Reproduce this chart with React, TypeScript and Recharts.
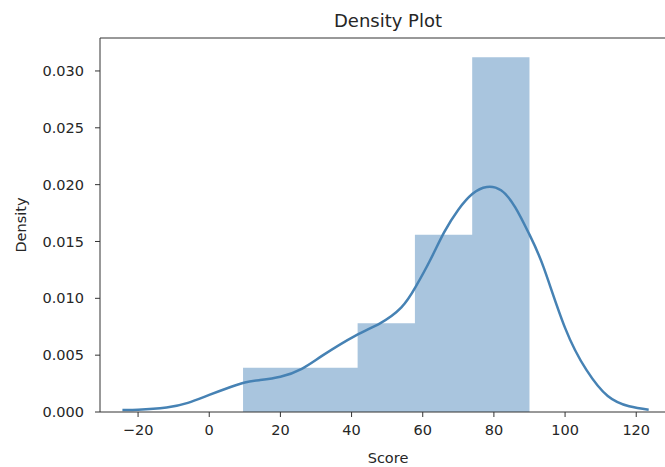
import React from 'react';
import { ComposedChart, Area, Line, XAxis, YAxis, ReferenceLine } from 'recharts';

// histogram bins (edges) and their density heights
const binEdges = [9.5, 25.6, 41.7, 57.8, 73.9, 90];
const binDensity = [0.0039, 0.0039, 0.0078, 0.0156, 0.0312];

// KDE curve
const kdeX = [-24.4, -20, -12, -6, 0, 6, 10, 14, 20, 26, 32, 41, 48, 54, 58, 62, 66, 70, 74, 78, 82, 86, 90, 94, 100, 106, 112, 118, 123.5];
const kdeY = [0.00018, 0.0002, 0.0004, 0.0008, 0.0015, 0.0022, 0.0026, 0.0028, 0.0031, 0.0038, 0.005, 0.0067, 0.0078, 0.0092, 0.011, 0.0133, 0.0158, 0.0178, 0.0192, 0.0198, 0.0195, 0.018, 0.0156, 0.0127, 0.0074, 0.0037, 0.0014, 0.0005, 0.0002];

const xTicks = [-20, 0, 20, 40, 60, 80, 100, 120];
const yTicks = [0, 0.005, 0.01, 0.015, 0.02, 0.025, 0.03];

const histData = binEdges.map((e, i) => ({ x: e, h: binDensity[Math.min(i, binDensity.length - 1)] }));
const kdeData = kdeX.map((x, i) => ({ x, y: kdeY[i] }));

const FONT = '"DejaVu Sans", sans-serif';
const tick = { fill: '#262626', fontSize: 14.5, fontFamily: FONT };

export default function App() {
  return (
    <div style={{ position: 'absolute', left: 0, top: 0, width: 665, height: 467, overflow: 'hidden', background: '#fff' }}>
      <ComposedChart width={680} height={467} margin={{ top: 38, right: 0, bottom: 0, left: 0 }}>
        <XAxis
          type="number"
          dataKey="x"
          domain={[-30.7, 132.3]}
          ticks={xTicks}
          allowDataOverflow
          height={55}
          stroke="#333"
          tickSize={5}
          tickMargin={8}
          tick={tick}
          tickFormatter={(v: number) => (v < 0 ? `\u2212${Math.abs(v)}` : `${v}`)}
        />
        <YAxis
          type="number"
          domain={[0, 0.0329]}
          ticks={yTicks}
          allowDataOverflow
          width={100}
          stroke="#333"
          tickSize={5}
          tickMargin={11}
          tick={tick}
          tickFormatter={(v: number) => v.toFixed(3)}
        />
        <ReferenceLine y={0.0329} stroke="#333" strokeWidth={1} />
        <Area
          data={histData}
          dataKey="h"
          type="stepAfter"
          stroke="none"
          fill="#a9c5de"
          fillOpacity={1}
          isAnimationActive={false}
        />
        <Line
          data={kdeData}
          dataKey="y"
          type="natural"
          stroke="#4682b4"
          strokeWidth={2.5}
          dot={false}
          isAnimationActive={false}
        />
      </ComposedChart>
      <svg width={665} height={467} style={{ position: 'absolute', left: 0, top: 0, pointerEvents: 'none' }}>
        <text x={388} y={27} textAnchor="middle" fontFamily={FONT} fontSize={18} fill="#262626">Density Plot</text>
        <text x={388} y={463} textAnchor="middle" fontFamily={FONT} fontSize={14.5} fill="#262626">Score</text>
        <text x={21} y={225} textAnchor="middle" dominantBaseline="central" transform="rotate(-90 21 225)" fontFamily={FONT} fontSize={14.5} fill="#262626">Density</text>
      </svg>
    </div>
  );
}
